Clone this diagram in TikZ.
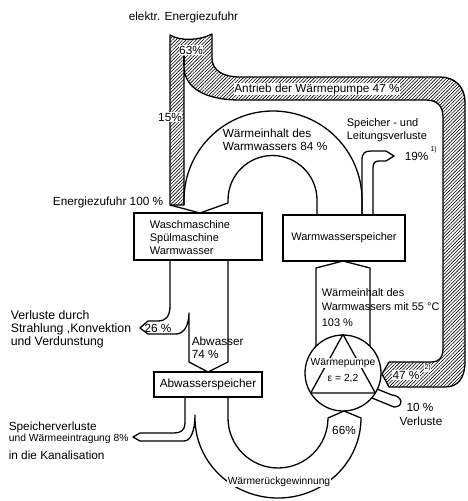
\documentclass[tikz,border=0pt]{standalone}
\usepackage{fontspec}
\setmainfont{Liberation Sans}
\usetikzlibrary{patterns.meta}
\begin{document}
\begin{tikzpicture}[x=1pt,y=-1pt,
  flow/.style={line width=1.3pt, line join=round},
  hatch/.style={flow, pattern={Lines[angle=45,distance=2.4pt,line width=0.6pt]}},
  unitbox/.style={draw, line width=1.6pt, inner sep=0pt},
  lbl/.style={inner sep=0.6pt, font=\fontsize{11.8}{13}\selectfont},
  mid/.style={inner sep=0.6pt, font=\fontsize{11}{13}\selectfont},
  wide/.style={inner sep=0.6pt, font=\fontsize{12.3}{13}\selectfont},
  small/.style={inner sep=0.6pt, font=\fontsize{10.3}{12}\selectfont},
  sup/.style={inner sep=0.3pt, font=\fontsize{7}{8}\selectfont},
  onwhite/.style={fill=white}
]
\useasboundingbox (0,0) rectangle (468,501);

% electric drive energy (hatched band)
\draw[hatch] (170,35) .. controls (180,41) and (199,41) .. (212,34)
  -- (212,58) .. controls (212,71) and (224,77) .. (240,77)
  -- (440,77) .. controls (455,77) and (465,87) .. (465,102)
  -- (465,362) .. controls (465,378) and (458,387) .. (445,387)
  -- (389,387) -- (382,374) -- (389,362)
  -- (432,362) .. controls (439,362) and (443,357) .. (443,350)
  -- (443,117) .. controls (443,106) and (437,100) .. (426,100)
  -- (240,100) .. controls (205,100) and (184,88) .. (184,66)
  -- (184,205) -- (170,205) -- cycle;
\draw[flow] (184,56) -- (184,66);

% units
\node[unitbox, minimum width=128pt, minimum height=47pt] (wasch) at (198,236.5) {};
\node[unitbox, minimum width=122pt, minimum height=46pt] (wwsp) at (344,238) {};
\node[unitbox, minimum width=108pt, minimum height=25pt] (awsp) at (208,384.5) {};
\node[draw, circle, line width=1.3pt, minimum size=76pt, inner sep=0pt] (wp) at (343,373) {};

% heat content of hot water, 84 %
\draw[flow] (184,205) -- (184,200) arc[start angle=180, end angle=360, radius=89] -- (362,215);
\draw[flow] (228,203) -- (228,200) arc[start angle=180, end angle=360, radius=44.5] -- (317,215);
\coordinate (inwasch) at (200,213);
\draw[flow] (170,205) -- (inwasch) -- (228,203);

% storage and line losses, 19 %
\draw[flow] (362,215) -- (362,160) .. controls (362,153) and (365,151) .. (371,151)
  -- (386,151) -- (394,156) -- (386,161) -- (379,161)
  .. controls (375,161) and (373,163) .. (373,168) -- (373,215);

% losses 26 % and waste water 74 %
\draw[flow] (170,260) -- (170,306) .. controls (170,316) and (166,321) .. (158,321)
  -- (148,321) -- (140,328) -- (148,334) -- (176,334)
  .. controls (184,334) and (189,325) .. (189,313)
  -- (189,362) -- (208,372) -- (228,362) -- (228,260);

% losses 8 % and heat recovery 66 %
\draw[flow] (185,397) -- (185,423) .. controls (185,430) and (181,433) .. (174,433)
  -- (140,433) -- (133,437) -- (140,441) -- (184,441)
  .. controls (191,441) and (195,430) .. (195,415)
  -- (195,418) arc[start angle=180, end angle=0, x radius=83, y radius=80]
  -- (344,411) -- (328,418) arc[start angle=0, end angle=180, radius=50] -- (228,397);

% heat content at 55 degC, 103 %
\draw[flow] (316,346.3) -- (316,268) -- (343,261) -- (370,268) -- (370,346.3);

% heat pump
\draw[flow] (wp.north) -- (310.7,393) -- (375.3,393) -- cycle;
\draw[flow] (377,389) -- (392,395) .. controls (403,396) and (404,407) .. (394,407) -- (372,398);

% labels
\node[lbl, anchor=west] (tel) at (128,17) {elektr. Energiezufuhr};
\node[lbl, onwhite] (t63) at (191,50) {63\%};
\node[lbl, onwhite] (t15) at (170,117) {15\%};
\node[lbl, onwhite] (tant) at (317,89) {Antrieb der Wärmepumpe 47 \%};
\node[lbl, anchor=west, align=left] (t84) at (222,140) {Wärmeinhalt des\\Warmwassers 84 \%};
\node[mid, anchor=west, align=left] (tsl) at (346,130.5) {Speicher - und\\Leitungsverluste};
\node[lbl, anchor=west] (t19) at (404,156) {19\%};
\node[sup, anchor=west] (t19s) at (430,150) {1)};
\node[lbl, anchor=east] (t100) at (164,202) {Energiezufuhr 100 \%};
\node[mid, anchor=west, align=left] at (149,238) {Waschmaschine\\Spülmaschine\\Warmwasser};
\node[mid] at (wwsp) {Warmwasserspeicher};
\node[mid, anchor=west] (t103a) at (321,293) {Wärmeinhalt des};
\node[mid, anchor=west] (t103b) at (321,307) {Warmwassers mit 55 °C};
\node[mid, anchor=west] (t103c) at (321,323) {103 \%};
\node[wide, anchor=west, align=left] (tvk) at (10,329) {Verluste durch\\Strahlung ,Konvektion\\und Verdunstung};
\node[lbl] (t26) at (158,328) {26 \%};
\node[lbl, anchor=west, align=left] (tab) at (191,347.5) {Abwasser\\74 \%};
\node[lbl] at (awsp) {Abwasserspeicher};
\node[lbl, anchor=west] (tsv1) at (8,427) {Speicherverluste};
\node[small, anchor=west] (tsv2) at (8,439) {und Wärmeeintragung 8\%};
\node[lbl, anchor=west] (tsv3) at (8,455) {in die Kanalisation};
\node[small, onwhite] (twp) at (343,363) {Wärmepumpe};
\node[small, onwhite] (teps) at (343,379) {ε = 2,2};
\node[lbl, onwhite] (t47) at (406,375) {47 \%};
\node[sup, anchor=west, onwhite] (t47s) at (424,368) {2)};
\node[lbl] (t10) at (420,407) {10 \%};
\node[lbl] (tvl) at (421,421) {Verluste};
\node[lbl] (t66) at (344,430) {66\%};
\node[small, onwhite] (twr) at (279,482) {Wärmerückgewinnung};
\end{tikzpicture}
\end{document}
